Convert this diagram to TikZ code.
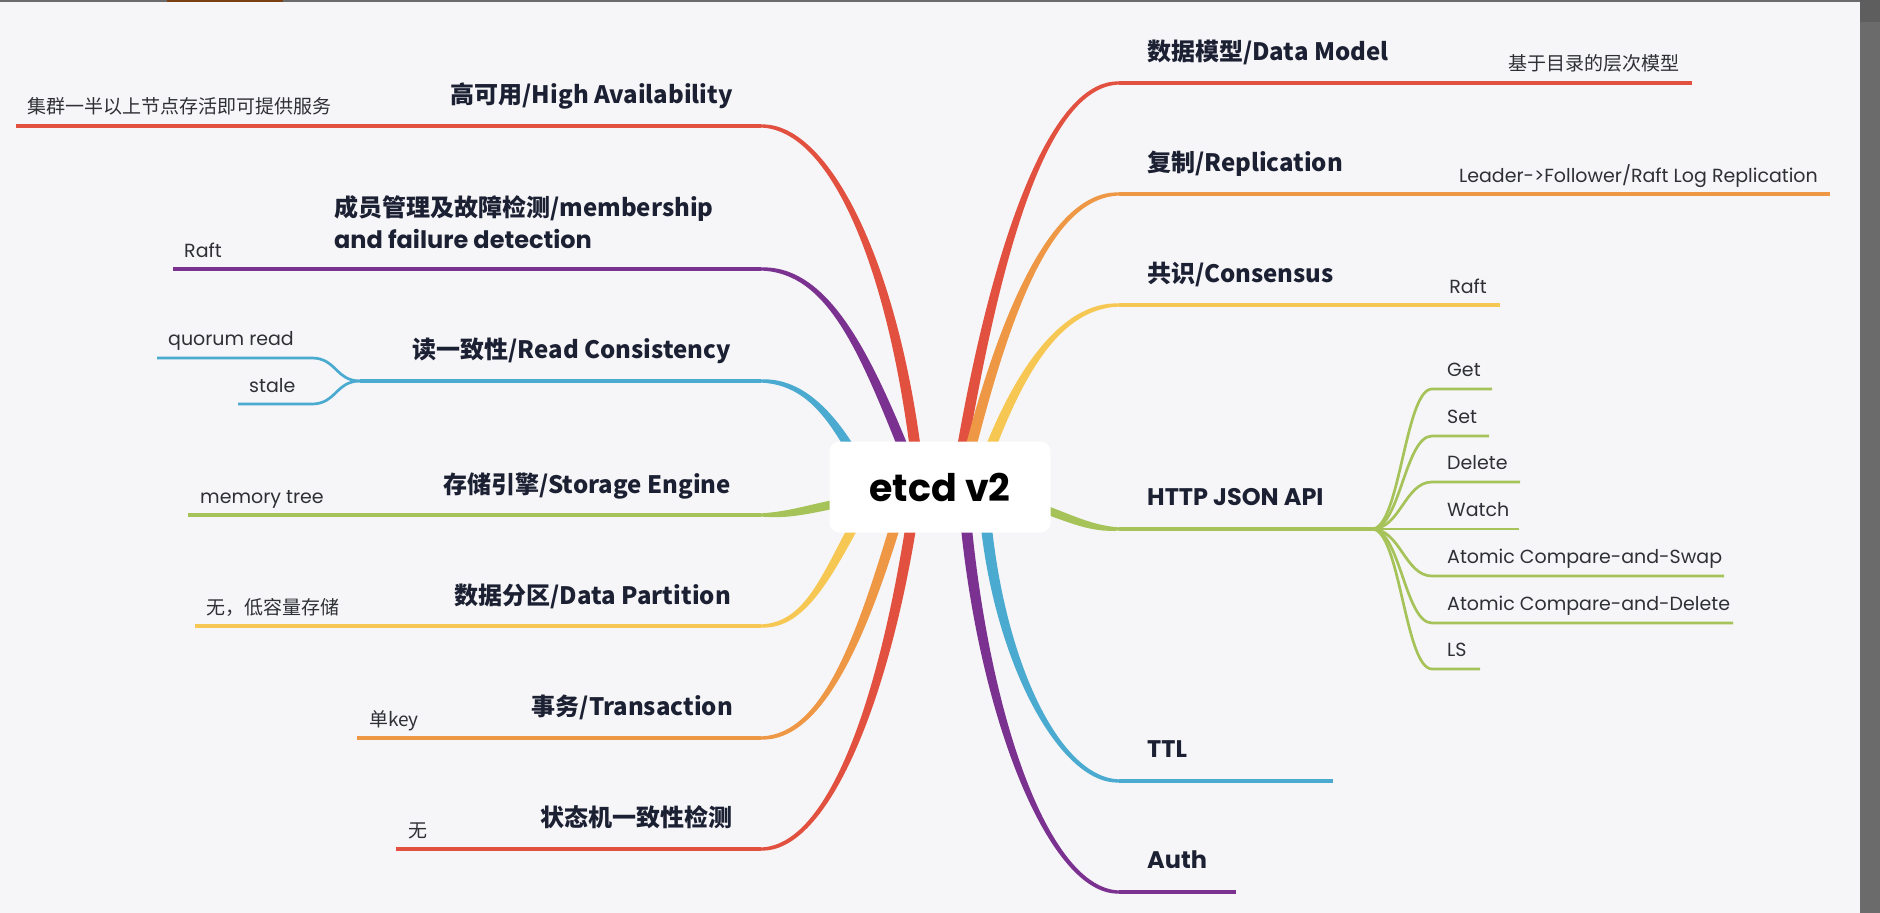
\documentclass[tikz,border=0pt]{standalone}
\usepackage{fontspec}
\setmainfont{Poppins}
\newfontfamily\cjk{Noto Sans CJK SC}
\usetikzlibrary{calc}
\pgfdeclarelayer{paper}
\pgfdeclarelayer{bg}
\pgfsetlayers{paper,bg,main}
\definecolor{cbg}{HTML}{F6F6F8}
\definecolor{cred}{HTML}{E2503F}
\definecolor{cpurple}{HTML}{7B3190}
\definecolor{cblue}{HTML}{4AAAD0}
\definecolor{cgreen}{HTML}{A6C359}
\definecolor{cyellow}{HTML}{F6C853}
\definecolor{corange}{HTML}{EE9845}
\definecolor{ink}{HTML}{1C2033}
\definecolor{leafink}{HTML}{2F3036}
\definecolor{frame}{HTML}{6B6B6B}
\definecolor{frametop}{HTML}{5E5E5E}
\definecolor{brownmark}{HTML}{7A3F12}
\tikzset{
  titletxt/.style={font=\fontsize{24}{32}\selectfont\bfseries, text=ink, inner sep=0pt},
  leaftxt/.style={font=\fontsize{19}{24}\selectfont, text=leafink, inner sep=0pt},
  rootbox/.style={fill=white, rounded corners=10pt, minimum width=221pt, minimum height=91pt,
    inner sep=0pt, font=\fontsize{38}{42}\selectfont\bfseries, text=black},
  uline/.style={line width=3.2pt},
  subline/.style={line width=2.7pt},
}
% tapered branch: color, start, end, c1 rel start, c2 rel end, start half-width vec, end half-width vec
\newcommand\taper[7]{%
  \fill[#1] ($(#2)+#6$) .. controls ($(#2)+#4+#6$) and ($(#3)+#5+2.3*#7$) .. ($(#3)+#7$)
    -- ($(#3)-#7$) .. controls ($(#3)+#5-2.3*#7$) and ($(#2)+#4-#6$) .. ($(#2)-#6$) -- cycle;}
\begin{document}
\begin{tikzpicture}[x=1pt,y=-1pt]
\useasboundingbox (0,0) rectangle (1880,913);
\begin{pgfonlayer}{paper}
\fill[cbg] (0,0) rectangle (1880,913);
\fill[frame] (0,0) rectangle (1860,1.5);
\fill[brownmark] (167,0) rectangle (283,1.5);
\fill[frame] (1860,0) rectangle (1880,913);
\fill[frametop] (1860,0) rectangle (1880,22);
\end{pgfonlayer}

% root
\node[rootbox] (root) at (940,487) {etcd v2};

% curve start points (under the root box)
\coordinate (s-ha) at (917,462);
\coordinate (s-mb) at (909,462);
\coordinate (s-rc) at (858,462);
\coordinate (s-se) at (845,502);
\coordinate (s-dp) at (861,513);
\coordinate (s-tx) at (899,513);
\coordinate (s-sm) at (913,513);
\coordinate (s-dm) at (960,462);
\coordinate (s-rp) at (967,462);
\coordinate (s-cs) at (985,462);
\coordinate (s-api) at (1035,506);
\coordinate (s-ttl) at (985,513);
\coordinate (s-au) at (965,513);

% curve end points
\coordinate (e-ha) at (761,126);
\coordinate (e-mb) at (761,269);
\coordinate (e-rc) at (761,381);
\coordinate (e-se) at (761,515);
\coordinate (e-dp) at (761,626);
\coordinate (e-tx) at (761,738);
\coordinate (e-sm) at (761,849);
\coordinate (e-dm) at (1119,83);
\coordinate (e-rp) at (1119,194);
\coordinate (e-cs) at (1119,305);
\coordinate (e-api) at (1119,529);
\coordinate (e-ttl) at (1119,781);
\coordinate (e-au) at (1119,892);

% underline ends / forks
\coordinate (l-ha) at (16,126);
\coordinate (l-mb) at (173,269);
\coordinate (f-rc) at (360,381);
\coordinate (k-qr) at (312,358);
\coordinate (l-qr) at (157,358);
\coordinate (k-st) at (312,404);
\coordinate (l-st) at (238,404);
\coordinate (l-se) at (188,515);
\coordinate (l-dp) at (195,626);
\coordinate (l-tx) at (357,738);
\coordinate (l-sm) at (396,849);
\coordinate (l-dm) at (1692,83);
\coordinate (l-rp) at (1830,194);
\coordinate (l-cs) at (1500,305);
\coordinate (f-api) at (1372,529);
\coordinate (l-ttl) at (1333,781);
\coordinate (l-au) at (1236,892);

% titles
\node[titletxt, anchor=base east] (t-ha) at (733,103) {\cjk{高可用}/High Availability};
\node[titletxt, anchor=west, align=left] (t-mb) at (334,222) {\cjk{成员管理及故障检测}/membership\\and failure detection};
\node[titletxt, anchor=base east] (t-rc) at (731,358) {\cjk{读一致性}/Read Consistency};
\node[titletxt, anchor=base east] (t-se) at (731,493) {\cjk{存储引擎}/Storage Engine};
\node[titletxt, anchor=base east] (t-dp) at (731,604) {\cjk{数据分区}/Data Partition};
\node[titletxt, anchor=base east] (t-tx) at (733,715) {\cjk{事务}/Transaction};
\node[titletxt, anchor=base east] (t-sm) at (733,826) {\cjk{状态机一致性检测}};
\node[titletxt, anchor=base west] (t-dm) at (1147,60) {\cjk{数据模型}/Data Model};
\node[titletxt, anchor=base west] (t-rp) at (1147,171) {\cjk{复制}/Replication};
\node[titletxt, anchor=base west] (t-cs) at (1147,282) {\cjk{共识}/Consensus};
\node[titletxt, anchor=base west] (t-api) at (1147,505) {HTTP JSON API};
\node[titletxt, anchor=base west] (t-ttl) at (1147,757) {TTL};
\node[titletxt, anchor=base west] (t-au) at (1147,868) {Auth};

% leaf labels
\node[leaftxt, anchor=base west] (n-ha) at (27,113) {\cjk{集群一半以上节点存活即可提供服务}};
\node[leaftxt, anchor=base west] (n-mb) at (184,257) {Raft};
\node[leaftxt, anchor=base west] (n-qr) at (168,345) {quorum read};
\node[leaftxt, anchor=base west] (n-st) at (249,392) {stale};
\node[leaftxt, anchor=base west] (n-se) at (200,503) {memory tree};
\node[leaftxt, anchor=base west] (n-dp) at (206,614) {\cjk{无，低容量存储}};
\node[leaftxt, anchor=base west] (n-tx) at (369,726) {\cjk{单}key};
\node[leaftxt, anchor=base west] (n-sm) at (408,837) {\cjk{无}};
\node[leaftxt, anchor=base east] (n-dm) at (1680,70) {\cjk{基于目录的层次模型}};
\node[leaftxt, anchor=base east] (n-rp) at (1818,182) {Leader->Follower/Raft Log Replication};
\node[leaftxt, anchor=base east] (n-cs) at (1487,293) {Raft};

% HTTP JSON API children: label, line y, line end x
\foreach \nm/\txt/\yy/\xe in {get/Get/389/1492, set/Set/436/1489, del/Delete/482/1520,
    wat/Watch/529/1519, acs/Atomic Compare-and-Swap/576/1724,
    acd/Atomic Compare-and-Delete/623/1733, ls/LS/669/1480}{
  \coordinate (k-\nm) at (1432,\yy);
  \coordinate (l-\nm) at (\xe,\yy);
  \node[leaftxt, anchor=base west] (n-\nm) at (1447,\yy-13) {\txt};
}

\begin{pgfonlayer}{bg}
% left-top
\taper{cred}{s-ha}{e-ha}{(-24,-200)}{(68,0)}{(5.5,0)}{(0,-1.6)}
\taper{cpurple}{s-mb}{e-mb}{(-44,-110)}{(67,0)}{(5.5,0)}{(0,-1.6)}
\taper{cblue}{s-rc}{e-rc}{(-25,-45)}{(44,0)}{(5.5,0)}{(0,-1.6)}
% left-middle
\taper{cgreen}{s-se}{e-se}{(-40,8)}{(29,0)}{(0,-4.5)}{(0,-1.6)}
% left-bottom
\taper{cyellow}{s-dp}{e-dp}{(-34,62)}{(45,0)}{(-5.5,0)}{(0,-1.6)}
\taper{corange}{s-tx}{e-tx}{(-37,124)}{(62,0)}{(-5.5,0)}{(0,-1.6)}
\taper{cred}{s-sm}{e-sm}{(-28,185)}{(68,0)}{(-5.5,0)}{(0,-1.6)}
% right-top
\taper{cred}{s-dm}{e-dm}{(35,-208)}{(-72,0)}{(5.5,0)}{(0,1.6)}
\taper{corange}{s-rp}{e-rp}{(37,-147)}{(-68,0)}{(5.5,0)}{(0,1.6)}
\taper{cyellow}{s-cs}{e-cs}{(32,-86)}{(-60,0)}{(5.5,0)}{(0,1.6)}
% right-middle
\taper{cgreen}{s-api}{e-api}{(35,12)}{(-29,0)}{(0,4.5)}{(0,1.6)}
% right-bottom
\taper{cblue}{s-ttl}{e-ttl}{(13,147)}{(-60,0)}{(-5.5,0)}{(0,1.6)}
\taper{cpurple}{s-au}{e-au}{(19,208)}{(-69,0)}{(-5.5,0)}{(0,1.6)}

% underlines
\draw[uline, cred] (e-ha) -- (l-ha);
\draw[uline, cpurple] (e-mb) -- (l-mb);
\draw[uline, cblue] (e-rc) -- (f-rc);
\draw[subline, cblue] (f-rc) .. controls ($(f-rc)+(-24,0)$) and ($(k-qr)+(24,0)$) .. (k-qr) -- (l-qr);
\draw[subline, cblue] (f-rc) .. controls ($(f-rc)+(-24,0)$) and ($(k-st)+(24,0)$) .. (k-st) -- (l-st);
\draw[uline, cgreen] (e-se) -- (l-se);
\draw[uline, cyellow] (e-dp) -- (l-dp);
\draw[uline, corange] (e-tx) -- (l-tx);
\draw[uline, cred] (e-sm) -- (l-sm);
\draw[uline, cred] (e-dm) -- (l-dm);
\draw[uline, corange] (e-rp) -- (l-rp);
\draw[uline, cyellow] (e-cs) -- (l-cs);
\draw[uline, cgreen] (e-api) -- (f-api);
\foreach \nm in {get,set,del,wat,acs,acd,ls}{
  \draw[subline, cgreen] (f-api) .. controls ($(f-api)+(28,0)$) and ($(k-\nm)+(-27,0)$) .. (k-\nm) -- (l-\nm);
}
\draw[uline, cblue] (e-ttl) -- (l-ttl);
\draw[uline, cpurple] (e-au) -- (l-au);
\end{pgfonlayer}
\end{tikzpicture}
\end{document}
